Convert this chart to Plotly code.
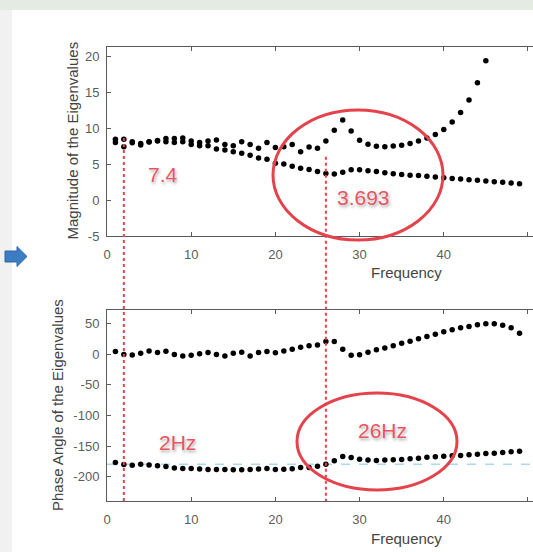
import plotly.graph_objects as go

# ---------------- data ----------------
freq = [1, 2, 3, 4, 5, 6, 7, 8, 9, 10, 11, 12, 13, 14, 15, 16, 17, 18, 19, 20,
        21, 22, 23, 24, 25, 26, 27, 28, 29, 30, 31, 32, 33, 34, 35, 36, 37, 38, 39, 40,
        41, 42, 43, 44, 45, 46, 47, 48, 49]

# magnitude of the two eigenvalues
mag_a = [8.45, 8.45, 8.1, 7.85, 8.1, 8.25, 8.55, 8.55, 8.6, 8.2,
         8.0, 8.2, 8.35, 7.7, 7.55, 8.1, 7.7, 7.2, 8.0, 7.3,
         7.4, 7.7, 6.7, 7.35, 7.2, 8.2, 9.7, 11.1, 9.6, 8.3,
         7.75, 7.45, 7.4, 7.5, 7.6, 7.85, 8.2, 8.6, 9.1, 9.8,
         10.85, 12.15, 13.9, 16.3, 19.35, None, None, None, None]
mag_b = [8.0, 7.4, 7.95, 7.65, 8.05, 8.2, 8.1, 8.0, 8.1, 7.7,
         7.55, 7.55, 7.1, 6.95, 6.7, 6.5, 6.2, 5.85, 5.65, 5.1,
         5.0, 4.7, 4.4, 4.25, 3.95, 3.693, 3.6, 3.85, 4.2, 4.2,
         4.05, 3.95, 3.8, 3.65, 3.55, 3.45, 3.4, 3.3, 3.2, 3.1,
         3.0, 2.9, 2.8, 2.75, 2.65, 2.55, 2.45, 2.35, 2.25]

# phase angle of the two eigenvalues (degrees)
ph_a = [4.6, -0.3, -1, 2, 5.7, 3, 5.2, -0.3, -2.5, -1.4,
        0.8, 3, -0.3, -2.5, 2, 3.5, -2.5, 3, 4.6, 2.5,
        5.7, 8.5, 11.8, 13.9, 15.5, 21, 21, 8.5, -1.4, -0.8,
        3.6, 7.4, 10.6, 13.9, 18.3, 21.6, 25.4, 29.2, 33, 36.8,
        40.1, 43.4, 45.5, 48.3, 50, 50, 47.8, 43.4, 34.7]
ph_b = [-177, -180.3, -181.4, -180, -181, -182.5, -183.5, -185.8, -187, -187,
        -187.5, -188.5, -188.5, -188.5, -189, -189, -188.5, -187.5, -187, -188.5,
        -188, -187.4, -185.3, -185, -183, -179.7, -174.3, -167, -169, -171.5,
        -173, -173.8, -173, -172.5, -172, -171, -170, -168.3, -167.5, -166.6,
        -166, -165.5, -164.5, -163.3, -162.4, -161.8, -160.7, -159.5, -158.4]

ref_phase = -180          # reference phase level (dashed line)
marked_freqs = [2, 26]    # frequencies highlighted by dotted lines
marked_tops = [8.6, 6.0]  # magnitude where each dotted line starts

x_ticks = [0, 10, 20, 30, 40, 50]
mag_ticks = [-5, 0, 5, 10, 15, 20]
ph_ticks = [-200, -150, -100, -50, 0, 50]

# ---------------- layout geometry ----------------
W, H = 533, 552
ML, MR, MT, MB = 107, 0, 47, 51
PW, PH = W - ML - MR, H - MT - MB
X_RANGE = [0, 50.6]
MAG_RANGE = [-5, 21.25]
PH_RANGE = [-240, 72.6]
TOP_DOM = [(H - MB - 236) / PH, 1.0]
BOT_DOM = [0.0, (H - MB - 310) / PH]


def px_x(px):
    return (px - ML) / PW


def px_y(py):
    return (H - MB - py) / PH


def mag_to_paper(v):
    d0, d1 = TOP_DOM
    return d0 + (v - MAG_RANGE[0]) / (MAG_RANGE[1] - MAG_RANGE[0]) * (d1 - d0)


RED = "#e4434c"
TXT_RED = "#e85560"
AX = "#5a5a5a"
FONT = "Liberation Sans, Arial, Helvetica, sans-serif"

fig = go.Figure()

mk = dict(color="black", size=5.5)
fig.add_trace(go.Scatter(x=freq, y=mag_a, mode="markers", marker=mk, xaxis="x", yaxis="y"))
fig.add_trace(go.Scatter(x=freq, y=mag_b, mode="markers", marker=mk, xaxis="x", yaxis="y"))

# reference phase level
fig.add_trace(go.Scatter(x=X_RANGE, y=[ref_phase, ref_phase], mode="lines",
                         line=dict(color="#a9d9ef", width=1.5, dash="dash"),
                         xaxis="x2", yaxis="y2"))
fig.add_trace(go.Scatter(x=freq, y=ph_a, mode="markers", marker=mk, xaxis="x2", yaxis="y2"))
fig.add_trace(go.Scatter(x=freq, y=ph_b, mode="markers", marker=mk, xaxis="x2", yaxis="y2"))

axis_common = dict(showline=True, linecolor=AX, linewidth=1, ticks="inside",
                   ticklen=4, tickcolor=AX, tickwidth=1, showgrid=False,
                   zeroline=False, tickfont=dict(family=FONT, size=13, color="#5c5c5c"))

fig.update_layout(
    width=W, height=H,
    margin=dict(l=ML, r=MR, t=MT, b=MB, pad=0),
    paper_bgcolor="white", plot_bgcolor="white",
    showlegend=False,
    xaxis=dict(domain=[0, 1], range=X_RANGE, anchor="y", mirror="ticks",
               tickmode="array", tickvals=x_ticks, ticktext=[str(v) for v in x_ticks],
               ticklabelstandoff=6, **axis_common),
    yaxis=dict(domain=TOP_DOM, range=MAG_RANGE, anchor="x",
               tickmode="array", tickvals=mag_ticks, ticktext=[str(v) for v in mag_ticks],
               ticklabelstandoff=4, **axis_common),
    xaxis2=dict(domain=[0, 1], range=X_RANGE, anchor="y2", mirror="ticks",
                tickmode="array", tickvals=x_ticks, ticktext=[str(v) for v in x_ticks],
                ticklabelstandoff=6, **axis_common),
    yaxis2=dict(domain=BOT_DOM, range=PH_RANGE, anchor="x2",
                tickmode="array", tickvals=ph_ticks, ticktext=[str(v) for v in ph_ticks],
                ticklabelstandoff=4, **axis_common),
)

shapes = []
# page frame strips
shapes.append(dict(type="rect", xref="paper", yref="paper", layer="below",
                   x0=px_x(0), x1=px_x(W), y0=px_y(10), y1=px_y(0),
                   fillcolor="#e4ebe3", line=dict(width=0)))
shapes.append(dict(type="rect", xref="paper", yref="paper", layer="below",
                   x0=px_x(0), x1=px_x(12), y0=px_y(H), y1=px_y(10),
                   fillcolor="#f1f1f1", line=dict(width=0)))
# blue arrow on the left edge
arrow_pts = [(5, 251), (17, 251), (17, 246.5), (27, 256.5), (17, 266.5), (17, 262), (5, 262)]
path = "M " + " L ".join(f"{px_x(a):.5f},{px_y(b):.5f}" for a, b in arrow_pts) + " Z"
shapes.append(dict(type="path", xref="paper", yref="paper", path=path,
                   fillcolor="#3b7cc2", line=dict(color="#2f68a8", width=1)))

# dotted markers at the highlighted frequencies
for f, top in zip(marked_freqs, marked_tops):
    shapes.append(dict(type="line", xref="x", yref="paper", x0=f, x1=f,
                       y0=mag_to_paper(top), y1=0,
                       line=dict(color=RED, width=2, dash="dot")))

# highlight ellipses
shapes.append(dict(type="circle", xref="paper", yref="paper",
                   x0=px_x(273), x1=px_x(443), y0=px_y(240), y1=px_y(110),
                   line=dict(color=RED, width=3)))
shapes.append(dict(type="circle", xref="paper", yref="paper",
                   x0=px_x(297), x1=px_x(457), y0=px_y(490), y1=px_y(393),
                   line=dict(color=RED, width=3)))
fig.update_layout(shapes=shapes)

title_font = dict(family=FONT, size=15, color="#444")
label_font = dict(family=FONT, size=21, color=TXT_RED,
                  shadow="0px 0px 2px #ffffff, 1px 2px 3px rgba(90,90,90,0.55)")

ann = []
ann.append(dict(text="Magnitude of the Eigenvalues", x=px_x(71.5), y=px_y(141),
                textangle=-90, font=title_font))
ann.append(dict(text="Phase Angle of the Eigenvalues", x=px_x(57.5), y=px_y(405.5),
                textangle=-90, font=title_font))
ann.append(dict(text="Frequency", x=px_x(406), y=px_y(272), font=title_font))
ann.append(dict(text="Frequency", x=px_x(406), y=px_y(538), font=title_font))

ann.append(dict(text=f"{mag_b[freq.index(marked_freqs[0])]:g}", x=px_x(163), y=px_y(174),
                font=label_font))
ann.append(dict(text=f"{mag_b[freq.index(marked_freqs[1])]:.3f}", x=px_x(363.5), y=px_y(197),
                font=label_font))
ann.append(dict(text=f"{marked_freqs[0]}Hz", x=px_x(177), y=px_y(442), font=label_font))
ann.append(dict(text=f"{marked_freqs[1]}Hz", x=px_x(382), y=px_y(430), font=label_font))

for a in ann:
    a.update(xref="paper", yref="paper", showarrow=False, xanchor="center", yanchor="middle")
fig.update_layout(annotations=ann)

fig.write_html("out.html")
